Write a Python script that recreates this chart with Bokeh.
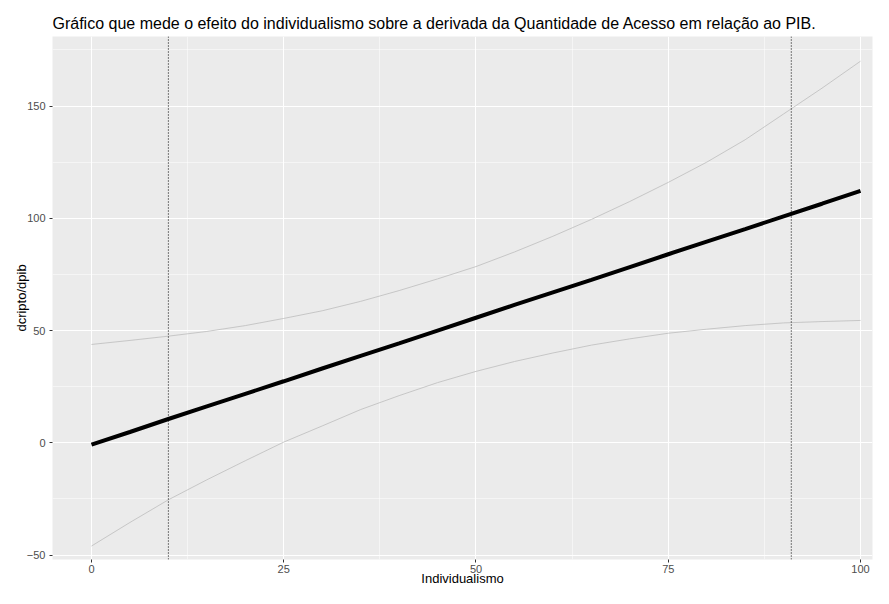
from bokeh.plotting import figure
from bokeh.models import FixedTicker, Span, Range1d
from bokeh.embed import file_html
from bokeh.resources import INLINE

# Data
individualismo = [0, 5, 10, 15, 20, 25, 30, 35, 40, 45, 50, 55, 60, 65, 70, 75, 80, 85, 90, 95, 100]
efeito = [-0.8, 4.8, 10.6, 16.2, 21.8, 27.4, 33.1, 38.7, 44.3, 50.0, 55.7, 61.4, 67.0, 72.6, 78.3,
          84.0, 89.6, 95.2, 100.9, 106.5, 112.2]
limite_sup = [43.8, 45.6, 47.5, 49.6, 52.2, 55.4, 58.8, 63.0, 67.8, 73.0, 78.5, 85.0, 92.0, 99.5,
              107.5, 116.0, 125.0, 135.0, 146.5, 158.0, 170.0]
limite_inf = [-46.0, -35.5, -25.4, -16.5, -8.0, 0.3, 7.5, 14.8, 21.0, 26.8, 31.8, 36.2, 40.0, 43.5,
              46.3, 48.8, 50.6, 52.2, 53.4, 54.0, 54.5]
linhas_verticais = [10, 91]
x_ticks = [0, 25, 50, 75, 100]
x_minor = [12.5, 37.5, 62.5, 87.5]
y_ticks = [-50, 0, 50, 100, 150]
y_minor = [-25, 25, 75, 125, 175]

FONT = "Liberation Sans"

p = figure(width=873, height=588, output_backend="svg", toolbar_location=None,
           x_range=Range1d(-5.07, 101.56), y_range=Range1d(-52.0, 181.0),
           min_border_left=52, min_border_right=1, min_border_top=36, min_border_bottom=28)

p.title.text = "Gráfico que mede o efeito do individualismo sobre a derivada da Quantidade de Acesso em relação ao PIB."
p.title.text_font = FONT
p.title.text_font_size = "16px"
p.title.text_font_style = "normal"
p.title.text_color = "black"
p.title.standoff = 9

p.background_fill_color = "#EBEBEB"
p.border_fill_color = "white"
p.outline_line_color = None

p.xaxis.ticker = FixedTicker(ticks=x_ticks, minor_ticks=x_minor)
p.yaxis.ticker = FixedTicker(ticks=y_ticks, minor_ticks=y_minor)

for ax in (p.xaxis, p.yaxis):
    ax.axis_line_color = None
    ax.major_tick_line_color = "#333333"
    ax.major_tick_out = 3
    ax.major_tick_in = 0
    ax.minor_tick_line_color = None
    ax.major_label_text_font = FONT
    ax.major_label_text_font_size = "11px"
    ax.major_label_text_color = "#4D4D4D"
    ax.axis_label_text_font = FONT
    ax.axis_label_text_font_size = "13px"
    ax.axis_label_text_font_style = "normal"
    ax.axis_label_text_color = "black"

p.xaxis.axis_label = "Individualismo"
p.yaxis.axis_label = "dcripto/dpib"
p.xaxis.major_label_standoff = 1
p.xaxis.axis_label_standoff = -5
p.yaxis.major_label_standoff = 3
p.yaxis.axis_label_standoff = -5

for g in (p.xgrid, p.ygrid):
    g.grid_line_color = "white"
    g.grid_line_width = 1.1
    g.minor_grid_line_color = "white"
    g.minor_grid_line_width = 0.5

p.line(individualismo, limite_sup, line_color="#C2C2C2", line_width=0.9)
p.line(individualismo, limite_inf, line_color="#C2C2C2", line_width=0.9)
p.line(individualismo, efeito, line_color="black", line_width=4)

for xv in linhas_verticais:
    p.add_layout(Span(location=xv, dimension="height", line_color="black",
                      line_width=1, line_dash="1 2"))

open("out.html", "w").write(file_html(p, INLINE))
